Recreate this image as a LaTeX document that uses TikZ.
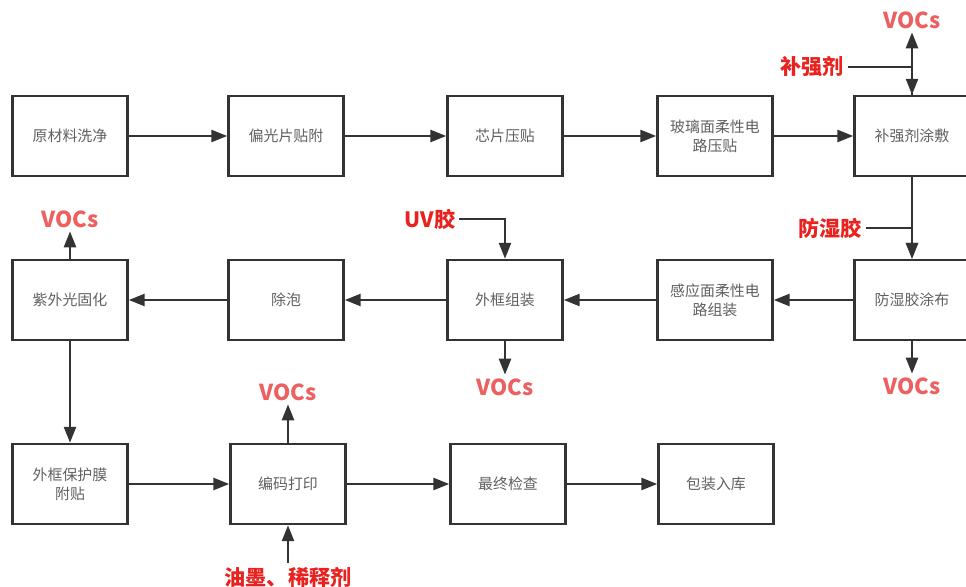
\documentclass[tikz,border=0pt]{standalone}
\usepackage{fontspec}
\setmainfont{Noto Sans CJK SC}
\usetikzlibrary{arrows.meta,positioning}
\definecolor{ink}{HTML}{333333}
\definecolor{txt}{HTML}{606060}
\definecolor{voc}{HTML}{EE5F5F}
\definecolor{chem}{HTML}{E8231F}

\begin{document}
\begin{tikzpicture}[x=0.02cm,y=-0.02cm,
   b/.style={draw=ink,line width=1.4pt,minimum width=2.3cm,minimum height=1.6cm,inner sep=2pt,text width=2.1cm,align=center,text=txt,font=\fontsize{8.5}{11}\selectfont},
   a/.style={-{Triangle[length=0.32cm,width=0.24cm]},line width=1.4pt,ink},
   v/.style={text=voc,inner sep=2pt,font=\fontsize{12.5}{14}\selectfont\bfseries},
   c/.style={text=chem,inner sep=2pt,font=\fontsize{12}{14}\selectfont\bfseries}]
  \useasboundingbox (0,0) rectangle (966,587);
  % first row
  \node[b] (p1) at (70,136)  {原材料洗净};
  \node[b] (p2) at (286,136) {偏光片贴附};
  \node[b] (p3) at (505,136) {芯片压贴};
  \node[b] (p4) at (715,136) {玻璃面柔性电\\路压贴};
  \node[b] (p5) at (912,136) {补强剂涂敷};
  % second row
  \node[b] (q1) at (70,300)  {紫外光固化};
  \node[b] (q2) at (286,300) {除泡};
  \node[b] (q3) at (505,300) {外框组装};
  \node[b] (q4) at (715,300) {感应面柔性电\\路组装};
  \node[b] (q5) at (912,300) {防湿胶涂布};
  % third row
  \node[b] (r1) at (70,484)  {外框保护膜\\附贴};
  \node[b] (r2) at (288,484) {编码打印};
  \node[b] (r3) at (508,484) {最终检查};
  \node[b] (r4) at (716,484) {包装入库};
  % inputs and emissions
  \node[v] (o5) at (912,20)  {VOCs};
  \node[c] (bq) at (812,67)  {补强剂};
  \node[c] (fs) at (830,228) {防湿胶};
  \node[v] (o6) at (912,386) {VOCs};
  \node[c] (uv) at (430,219) {UV胶};
  \node[v] (o3) at (505,387) {VOCs};
  \node[v] (o1) at (70,219)  {VOCs};
  \node[v] (o2) at (288,392) {VOCs};
  \node[c] (ym) at (288,577) {油墨、稀释剂};
  \draw[a] (p1) -- (p2);
  \draw[a] (p2) -- (p3);
  \draw[a] (p3) -- (p4);
  \draw[a] (p4) -- (p5);
  \draw[a] (p5) -- (o5);
  \draw[a] (bq) -| (p5);
  \draw[a] (p5) -- (q5);
  \draw[a] (fs) -| (q5);
  \draw[a] (q5) -- (o6);
  \draw[a] (q5) -- (q4);
  \draw[a] (q4) -- (q3);
  \draw[a] (uv) -| (q3);
  \draw[a] (q3) -- (o3);
  \draw[a] (q3) -- (q2);
  \draw[a] (q2) -- (q1);
  \draw[a] (q1) -- (o1);
  \draw[a] (q1) -- (r1);
  \draw[a] (r1) -- (r2);
  \draw[a] (r2) -- (o2);
  \draw[a] (ym) -- (r2);
  \draw[a] (r2) -- (r3);
  \draw[a] (r3) -- (r4);
\end{tikzpicture}
\end{document}
